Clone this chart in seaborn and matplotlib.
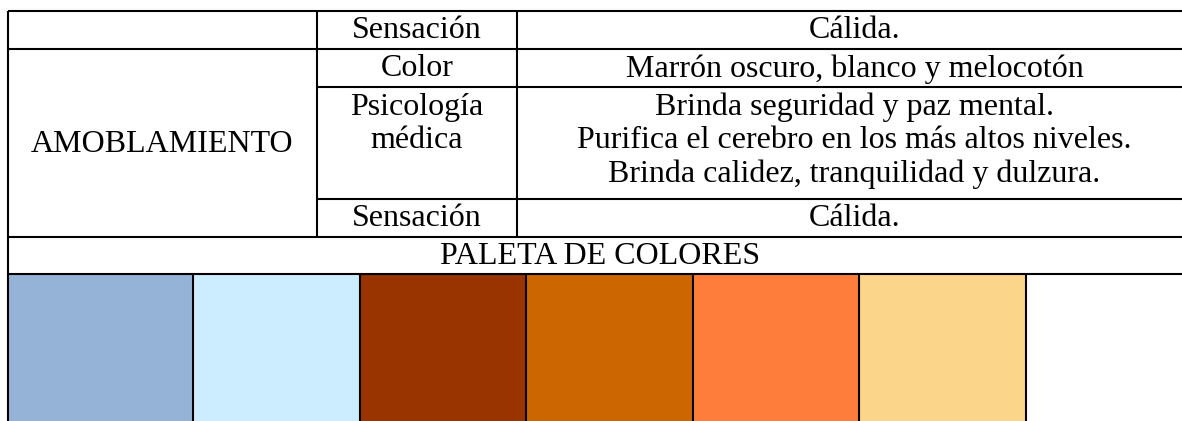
import numpy as np
import matplotlib
matplotlib.use("Agg")
import matplotlib.pyplot as plt
from matplotlib.colors import ListedColormap
import seaborn as sns

# table texts
group_label = "AMOBLAMIENTO"
aspects = ["Sensación", "Color", "Psicología\nmédica", "Sensación"]
details = [
    ["Cálida."],
    ["Marrón oscuro, blanco y melocotón"],
    ["Brinda seguridad y paz mental.",
     "Purifica el cerebro en los más altos niveles.",
     "Brinda calidez, tranquilidad y dulzura."],
    ["Cálida."],
]
palette_title = "PALETA DE COLORES"
swatch_colors = ["#95B3D7", "#CCECFF", "#993300", "#CC6600", "#FF7D3B", "#FBD58A", "#FFFFFF"]
swatch_span = [10, 9, 9, 9, 9, 9, 9]   # relative widths of the palette cells

sns.set_theme(style="white")
plt.rcParams['font.family'] = ['Liberation Serif', 'DejaVu Serif']
plt.rcParams['text.color'] = 'black'

W, H = 1182, 421
fig = plt.figure(figsize=(W / 100, H / 100), dpi=100)

# layout in pixels
x_left, x_c1, x_c2, x_right = 8, 317, 517, 1192
row_y = [11, 49, 87, 199, 237]   # top edges of the table rows
y_pal, y_sw = 237, 274
lw = 1.5
fs = 23

# palette row drawn as a heatmap
ax_sw = fig.add_axes([x_left / W, (H - 440) / H, (x_right - x_left) / W, (440 - y_sw) / H])
cells = np.repeat(np.arange(len(swatch_colors)), swatch_span)[None, :]
sns.heatmap(cells, ax=ax_sw, cmap=ListedColormap(swatch_colors), cbar=False,
            xticklabels=False, yticklabels=False, linewidths=0,
            vmin=-0.5, vmax=len(swatch_colors) - 0.5)
ax_sw.vlines(np.cumsum(swatch_span)[:-1], 0, 1, color="black", lw=lw)
ax_sw.set_axis_off()

# main table grid and text
ax = fig.add_axes([0, 0, 1, 1], zorder=5)
ax.set_xlim(0, W)
ax.set_ylim(H, 0)
ax.patch.set_alpha(0)
ax.set_axis_off()

ax.hlines([11, 49, 237, 274], x_left, x_right, color="black", lw=lw)
ax.hlines([87, 199], x_c1, x_right, color="black", lw=lw)
ax.vlines(x_left, 11, H + 5, color="black", lw=lw)
ax.vlines([x_c1, x_c2], 11, 237, color="black", lw=lw)

ax.text((x_left + x_c1) / 2, (49 + 237) / 2 + 1.5, group_label, ha="center", va="center",
        fontsize=fs, color="black")

line_h = 33.5
for i, (asp, det) in enumerate(zip(aspects, details)):
    first = row_y[i] + 20
    for j, s in enumerate(asp.split("\n")):
        ax.text((x_c1 + x_c2) / 2, first + j * line_h, s, ha="center", va="center",
                fontsize=fs, color="black")
    for j, s in enumerate(det):
        ax.text((x_c2 + x_right) / 2, first + j * line_h, s, ha="center", va="center",
                fontsize=fs, color="black")

ax.text((x_left + x_right) / 2, (y_pal + y_sw) / 2 + 1.5, palette_title, ha="center", va="center",
        fontsize=fs, color="black")

fig.savefig("out.png", dpi=100)
